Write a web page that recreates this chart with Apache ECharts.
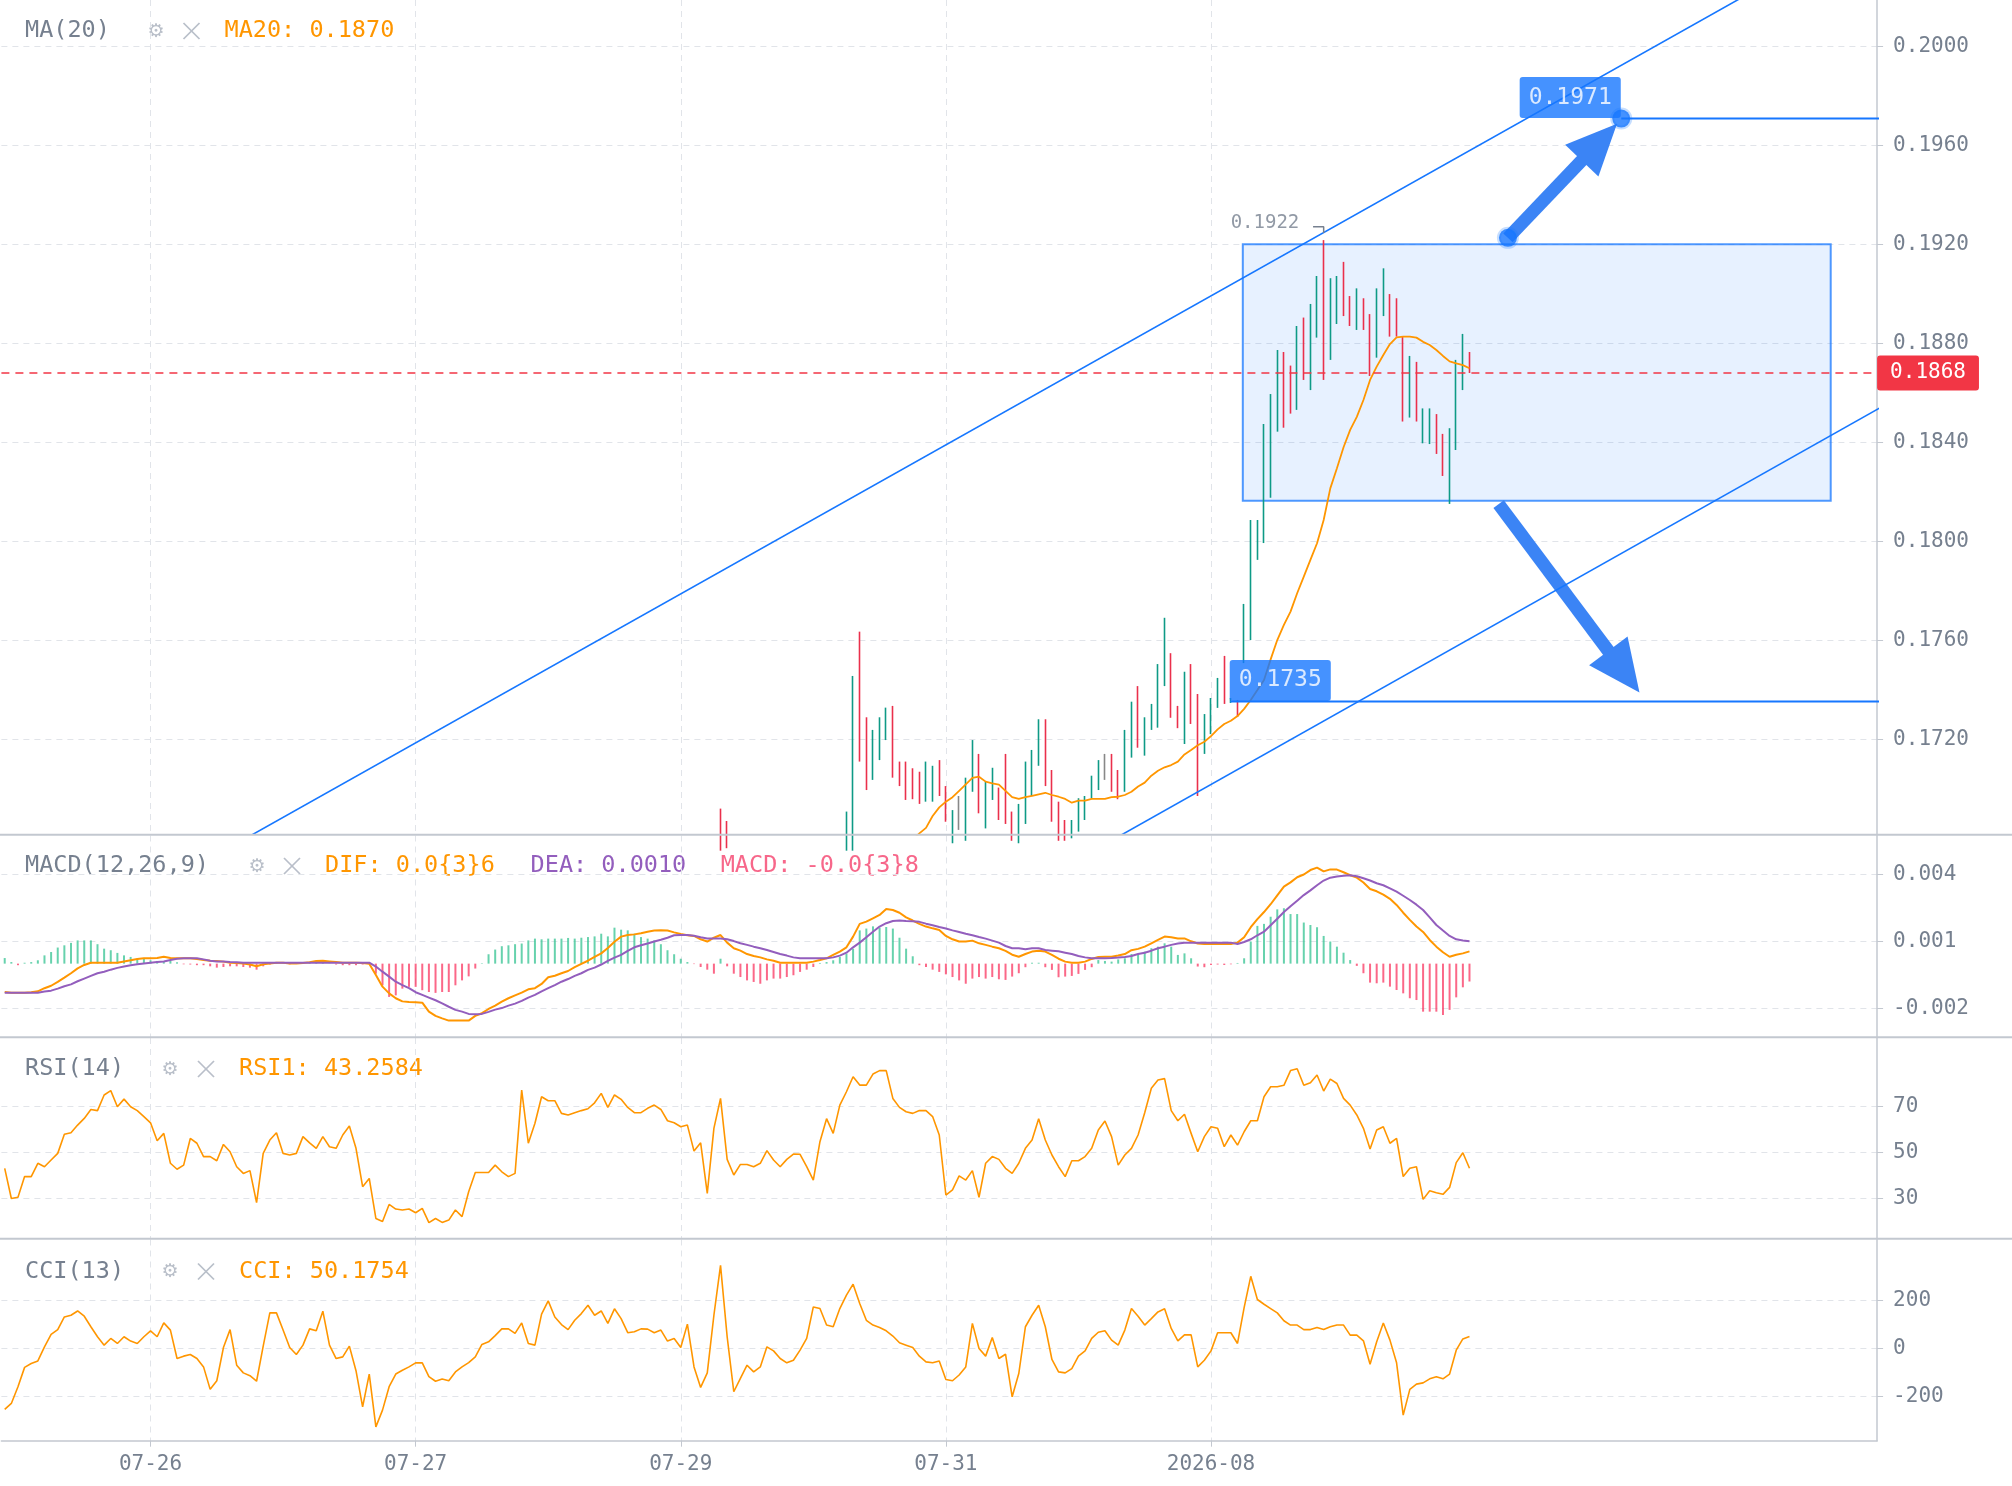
<!DOCTYPE html>
<html>
<head>
<meta charset="utf-8">
<script src="https://cdn.jsdelivr.net/npm/echarts@6/dist/echarts.min.js"></script>
<style>html,body{margin:0;padding:0;background:#fff}#c{width:2012px;height:1486px}</style>
</head>
<body>
<div id="c"></div>
<script>
// ---------------- data ----------------
const SLOTS = 283;                       // bar slots on the time axis (data + empty right margin)
const categories = Array.from({length: SLOTS}, (_, i) => String(i));
const tickIndex = [22, 62, 102, 142, 182];
const tickLabels = ['07-26', '07-27', '07-29', '07-31', '2026-08'];

// candles (visible part of the price pane), first entry is bar 108
const candleStart = 108;
const lows = [0.16750,0.16760,
  null,null,null,null,null,null,null,null,null,null,null,null,null,null,null,null,null,
  0.16750,0.16750,0.17110,0.16995,0.17036,0.17116,0.17197,0.17045,0.17011,0.16955,
  0.16958,0.16939,0.16948,0.16948,0.16971,0.16867,0.16780,0.16834,0.16790,0.16988,
  0.16901,0.16840,0.16955,0.16874,0.16858,0.16790,0.16780,0.16858,0.16971,0.17093,
  0.17011,0.16867,0.16790,0.16790,0.16800,0.16827,0.16874,0.16962,0.16995,0.17036,
  0.16988,0.16958,0.16988,0.17126,0.17166,0.17134,0.17238,0.17247,0.17415,0.17287,
  0.17245,0.17181,0.17262,0.16971,0.17141,0.17221,0.17327,0.17343,0.17347,0.17290,
  0.17508,0.17601,0.17925,0.17993,0.18176,0.18443,0.18459,0.18516,0.18531,0.18652,
  0.18611,0.18823,0.18652,0.18733,0.18878,0.18910,0.18870,0.18854,0.18854,0.18668,
  0.18742,0.18910,0.18827,0.18827,0.18484,0.18500,0.18484,0.18396,0.18393,0.18353,
  0.18264,0.18151,0.18369,0.18611,0.18680];
const highs = [0.16920,0.16870,
  null,null,null,null,null,null,null,null,null,null,null,null,null,null,null,null,null,
  0.16908,0.17456,0.17635,0.17289,0.17238,0.17289,0.17328,0.17335,0.17110,0.17110,
  0.17083,0.17069,0.17110,0.17093,0.17116,0.17011,0.16914,0.16971,0.17045,0.17197,
  0.17141,0.17029,0.17085,0.17005,0.17141,0.16908,0.16939,0.17110,0.17157,0.17281,
  0.17281,0.17076,0.16948,0.16874,0.16874,0.16962,0.16971,0.17053,0.17116,0.17141,
  0.17141,0.17076,0.17238,0.17352,0.17415,0.17289,0.17343,0.17504,0.17691,0.17548,
  0.17335,0.17473,0.17504,0.17383,0.17302,0.17367,0.17448,0.17537,0.17367,0.17359,
  0.17747,0.18086,0.18086,0.18474,0.18595,0.18773,0.18765,0.18710,0.18870,0.18904,
  0.18959,0.19072,0.19217,0.19063,0.19072,0.19129,0.18991,0.19022,0.18982,0.18918,
  0.19022,0.19103,0.18999,0.18982,0.18827,0.18749,0.18725,0.18537,0.18537,0.18514,
  0.18434,0.18457,0.18733,0.18838,0.18765];
// 1 = up (green), -1 = down (red), 0 = unchanged (grey)
const dirs = [-1,-1,
  null,null,null,null,null,null,null,null,null,null,null,null,null,null,null,null,null,
  1,1,-1,-1,1,1,1,-1,-1,-1,
  -1,-1,1,1,-1,-1,1,0,1,1,
  -1,1,1,-1,-1,-1,1,1,1,1,
  -1,-1,-1,-1,1,1,1,1,1,0,
  -1,-1,1,1,-1,1,1,1,1,-1,
  -1,1,-1,-1,1,1,1,-1,1,-1,
  1,1,1,1,1,1,-1,-1,1,-1,
  1,1,-1,1,1,-1,-1,1,-1,-1,
  1,1,-1,-1,-1,1,-1,1,1,-1,
  -1,1,1,1,-1];
const dojiPrices = {144: 0.16900, 166: 0.17090};

// MA(20), first entry is bar 137
const maStart = 137;
const ma20 = [0.16795,0.16820,0.16842,0.16890,0.16925,0.16948,0.16966,0.16992,0.17018,0.17044,
  0.17049,0.17029,0.17022,0.17017,0.16992,0.16966,0.16959,0.16966,0.16971,0.16978,
  0.16984,0.16975,0.16968,0.16959,0.16944,0.16952,0.16952,0.16959,0.16959,0.16959,
  0.16966,0.16968,0.16975,0.16988,0.17009,0.17025,0.17053,0.17073,0.17087,0.17096,
  0.17110,0.17139,0.17157,0.17176,0.17190,0.17213,0.17240,0.17262,0.17275,0.17294,
  0.17323,0.17359,0.17399,0.17440,0.17523,0.17601,0.17662,0.17716,0.17790,0.17857,
  0.17925,0.17992,0.18086,0.18214,0.18295,0.18380,0.18450,0.18503,0.18571,0.18652,
  0.18706,0.18753,0.18797,0.18824,0.18827,0.18827,0.18823,0.18806,0.18793,0.18773,
  0.18749,0.18727,0.18719,0.18712,0.18699];

// MACD(12,26,9), bars 0..221
const dif = [-0.00127,-0.00130,-0.00130,-0.00130,-0.00128,-0.00124,-0.00110,-0.00099,-0.00082,-0.00063,
  -0.00043,-0.00021,-0.00006,0.00004,0.00004,0.00004,0.00004,0.00004,0.00010,0.00015,
  0.00021,0.00024,0.00024,0.00025,0.00031,0.00025,0.00024,0.00024,0.00024,0.00021,
  0.00016,0.00013,0.00012,0.00009,0.00004,0.00003,0.00001,-0.00004,-0.00012,-0.00003,
  0.00001,0.00004,0.00004,0.00001,0.00001,0.00003,0.00006,0.00012,0.00013,0.00010,
  0.00007,0.00004,0.00004,0.00004,0.00003,-0.00001,-0.00051,-0.00103,-0.00133,-0.00155,
  -0.00169,-0.00172,-0.00173,-0.00175,-0.00215,-0.00234,-0.00245,-0.00255,-0.00255,-0.00255,
  -0.00255,-0.00234,-0.00222,-0.00203,-0.00188,-0.00170,-0.00155,-0.00142,-0.00130,-0.00115,
  -0.00110,-0.00091,-0.00061,-0.00054,-0.00043,-0.00033,-0.00016,-0.00001,0.00013,0.00030,
  0.00046,0.00070,0.00098,0.00121,0.00128,0.00131,0.00136,0.00143,0.00148,0.00149,
  0.00148,0.00140,0.00133,0.00127,0.00124,0.00109,0.00099,0.00116,0.00128,0.00094,
  0.00069,0.00058,0.00043,0.00034,0.00028,0.00019,0.00013,0.00004,0.00004,0.00004,
  0.00004,0.00004,0.00009,0.00016,0.00024,0.00039,0.00054,0.00073,0.00121,0.00178,
  0.00188,0.00203,0.00218,0.00245,0.00240,0.00228,0.00207,0.00193,0.00178,0.00166,
  0.00158,0.00151,0.00124,0.00109,0.00099,0.00099,0.00103,0.00091,0.00084,0.00076,
  0.00069,0.00057,0.00040,0.00031,0.00043,0.00054,0.00058,0.00054,0.00039,0.00022,
  0.00009,0.00004,0.00004,0.00009,0.00021,0.00030,0.00031,0.00031,0.00036,0.00043,
  0.00060,0.00066,0.00076,0.00091,0.00106,0.00121,0.00118,0.00113,0.00113,0.00100,
  0.00090,0.00088,0.00088,0.00088,0.00088,0.00088,0.00094,0.00118,0.00163,0.00199,
  0.00231,0.00266,0.00306,0.00345,0.00364,0.00387,0.00399,0.00419,0.00430,0.00413,
  0.00422,0.00421,0.00409,0.00396,0.00385,0.00363,0.00334,0.00324,0.00309,0.00290,
  0.00263,0.00228,0.00196,0.00166,0.00142,0.00106,0.00076,0.00051,0.00031,0.00040,
  0.00046,0.00055];
const dea = [-0.00130,-0.00130,-0.00130,-0.00130,-0.00130,-0.00130,-0.00125,-0.00121,-0.00112,-0.00101,
  -0.00093,-0.00079,-0.00067,-0.00055,-0.00043,-0.00036,-0.00027,-0.00019,-0.00013,-0.00007,
  -0.00003,0.00001,0.00004,0.00007,0.00010,0.00016,0.00022,0.00024,0.00024,0.00024,
  0.00019,0.00013,0.00010,0.00009,0.00007,0.00006,0.00004,0.00004,0.00004,0.00004,
  0.00004,0.00004,0.00004,0.00004,0.00004,0.00004,0.00004,0.00004,0.00004,0.00004,
  0.00004,0.00004,0.00004,0.00004,0.00004,0.00004,-0.00013,-0.00036,-0.00058,-0.00081,
  -0.00096,-0.00110,-0.00128,-0.00140,-0.00152,-0.00164,-0.00178,-0.00193,-0.00207,-0.00215,
  -0.00225,-0.00227,-0.00225,-0.00216,-0.00206,-0.00199,-0.00188,-0.00179,-0.00167,-0.00152,
  -0.00140,-0.00124,-0.00110,-0.00096,-0.00081,-0.00069,-0.00055,-0.00043,-0.00028,-0.00018,
  -0.00004,0.00012,0.00027,0.00039,0.00057,0.00073,0.00082,0.00090,0.00099,0.00107,
  0.00116,0.00127,0.00128,0.00128,0.00125,0.00118,0.00113,0.00113,0.00113,0.00109,
  0.00101,0.00091,0.00084,0.00076,0.00069,0.00061,0.00052,0.00043,0.00036,0.00028,
  0.00024,0.00024,0.00024,0.00024,0.00024,0.00028,0.00036,0.00049,0.00073,0.00094,
  0.00118,0.00143,0.00166,0.00181,0.00191,0.00193,0.00191,0.00190,0.00187,0.00179,
  0.00172,0.00164,0.00157,0.00149,0.00142,0.00134,0.00127,0.00119,0.00112,0.00103,
  0.00094,0.00079,0.00069,0.00069,0.00064,0.00069,0.00069,0.00061,0.00058,0.00055,
  0.00049,0.00043,0.00034,0.00028,0.00024,0.00024,0.00024,0.00025,0.00027,0.00030,
  0.00034,0.00043,0.00049,0.00058,0.00069,0.00076,0.00084,0.00090,0.00093,0.00094,
  0.00094,0.00094,0.00094,0.00094,0.00094,0.00094,0.00088,0.00097,0.00109,0.00127,
  0.00143,0.00172,0.00201,0.00231,0.00257,0.00282,0.00307,0.00328,0.00351,0.00372,
  0.00385,0.00390,0.00394,0.00396,0.00391,0.00382,0.00372,0.00360,0.00351,0.00337,
  0.00322,0.00304,0.00285,0.00264,0.00240,0.00207,0.00173,0.00148,0.00124,0.00109,
  0.00104,0.00100];
const macdHist = [0.00025,0.00007,-0.00007,0.00004,0.00007,0.00015,0.00037,0.00052,0.00072,0.00082,
  0.00093,0.00104,0.00104,0.00104,0.00087,0.00067,0.00060,0.00048,0.00037,0.00030,
  0.00022,0.00022,0.00015,0.00012,0.00007,0.00012,0.00006,-0.00003,-0.00004,-0.00007,
  -0.00007,-0.00012,-0.00018,-0.00015,-0.00012,-0.00012,-0.00015,-0.00018,-0.00027,-0.00012,
  -0.00004,0.00003,0.00001,-0.00003,0.00001,0.00003,0.00006,0.00007,0.00006,0.00001,
  -0.00004,-0.00007,-0.00007,-0.00007,-0.00004,-0.00001,-0.00045,-0.00097,-0.00149,-0.00142,
  -0.00112,-0.00104,-0.00104,-0.00119,-0.00127,-0.00131,-0.00127,-0.00127,-0.00097,-0.00075,
  -0.00057,-0.00022,0.00002,0.00042,0.00063,0.00078,0.00082,0.00087,0.00090,0.00104,
  0.00112,0.00109,0.00112,0.00112,0.00112,0.00115,0.00112,0.00116,0.00119,0.00122,
  0.00134,0.00122,0.00161,0.00152,0.00149,0.00134,0.00119,0.00112,0.00104,0.00087,
  0.00060,0.00042,0.00022,0.00007,-0.00002,-0.00015,-0.00027,-0.00045,0.00022,-0.00012,
  -0.00045,-0.00060,-0.00075,-0.00082,-0.00090,-0.00075,-0.00067,-0.00067,-0.00060,-0.00052,
  -0.00037,-0.00027,-0.00015,0.00003,0.00007,0.00015,0.00030,0.00045,0.00067,0.00149,
  0.00157,0.00167,0.00161,0.00164,0.00157,0.00116,0.00067,0.00033,-0.00007,-0.00015,
  -0.00027,-0.00037,-0.00048,-0.00060,-0.00075,-0.00090,-0.00067,-0.00060,-0.00067,-0.00060,
  -0.00070,-0.00073,-0.00058,-0.00043,-0.00016,0.00004,0.00004,-0.00016,-0.00028,-0.00061,
  -0.00058,-0.00055,-0.00046,-0.00028,-0.00016,0.00016,0.00012,0.00009,0.00019,0.00024,
  0.00043,0.00043,0.00054,0.00069,0.00076,0.00091,0.00076,0.00039,0.00046,0.00024,
  -0.00013,-0.00016,-0.00006,-0.00004,-0.00006,-0.00003,0.00003,0.00024,0.00099,0.00169,
  0.00178,0.00210,0.00243,0.00248,0.00222,0.00222,0.00184,0.00173,0.00163,0.00124,
  0.00099,0.00076,0.00049,0.00016,-0.00010,-0.00043,-0.00085,-0.00088,-0.00085,-0.00103,
  -0.00118,-0.00133,-0.00155,-0.00163,-0.00215,-0.00215,-0.00215,-0.00230,-0.00207,-0.00151,
  -0.00106,-0.00080];

// RSI(14), bars 0..221
const rsi = [43.2,30.1,30.6,39.6,39.6,45.4,43.9,46.8,49.7,58.0,
  58.7,62.0,64.9,68.8,68.3,75.1,77.0,70.0,73.3,70.0,
  68.3,65.7,63.0,55.2,58.4,45.4,42.8,44.6,56.2,54.1,
  48.3,48.3,46.5,53.6,50.4,43.9,41.0,42.2,28.3,49.7,
  55.5,58.7,49.7,49.0,49.7,57.0,54.3,51.9,57.0,52.6,
  51.9,57.7,61.6,51.9,35.2,38.8,21.4,20.1,27.5,25.5,
  25.1,25.5,23.9,25.8,19.6,21.4,19.7,20.7,25.1,22.2,
  33.0,41.4,41.4,41.4,44.6,41.7,39.6,41.0,77.2,54.1,
  62.8,74.3,72.6,72.6,67.1,66.4,67.4,68.3,69.1,71.7,
  75.8,69.7,75.1,73.2,69.7,67.4,67.4,69.3,70.7,68.8,
  63.9,63.0,61.3,62.0,50.7,54.3,32.3,60.6,73.6,47.1,
  40.3,44.9,44.9,43.9,45.4,50.9,46.8,43.9,47.1,49.4,
  49.3,43.9,38.1,54.8,64.8,58.4,70.7,76.5,83.0,79.4,
  79.4,84.2,85.7,85.7,73.6,69.7,67.8,67.1,68.3,68.3,
  65.7,57.7,31.6,33.8,39.9,38.1,42.2,30.6,45.4,48.3,
  47.1,43.2,41.0,45.4,51.9,55.5,64.8,55.5,49.0,43.9,
  39.6,46.5,46.5,48.3,51.9,59.9,63.8,57.0,44.6,49.0,
  51.9,57.7,67.4,78.0,81.6,82.2,68.3,63.9,66.7,58.4,
  50.4,57.0,61.3,60.6,52.6,57.7,53.3,59.1,63.9,63.9,
  74.3,78.7,78.7,79.3,85.7,86.5,79.3,80.4,83.8,76.8,
  82.0,80.1,73.6,70.7,66.4,60.6,51.6,59.9,61.3,54.1,
  56.2,39.6,43.2,43.9,29.7,33.5,32.6,31.9,34.9,45.7,
  50.0,43.2584];

// CCI(13), bars 0..221
const cci = [-255,-230,-160,-79,-63,-52,7,59,79,132,
  139,157,135,91,49,14,42,21,49,31,
  21,49,74,49,107,77,-42,-32,-25,-42,
  -77,-171,-135,4,79,-70,-102,-114,-137,10,
  149,149,77,4,-25,14,82,74,156,14,
  -42,-35,10,-93,-244,-107,-328,-258,-160,-107,
  -91,-77,-60,-60,-118,-137,-128,-135,-98,-77,
  -59,-35,17,28,54,82,82,63,107,21,
  14,144,199,132,100,79,118,146,181,139,
  157,105,166,125,66,70,82,81,66,77,
  31,42,4,102,-77,-163,-102,139,348,49,
  -181,-125,-70,-98,-77,7,-10,-42,-60,-49,
  -7,42,174,167,98,91,167,223,269,188,
  118,98,88,74,52,24,14,4,-32,-56,
  -60,-52,-130,-135,-111,-77,105,0,-32,46,
  -42,-24,-202,-105,91,139,181,91,-46,-98,
  -102,-84,-32,-10,42,68,74,35,14,77,
  167,135,98,125,153,166,84,32,57,57,
  -77,-49,-10,66,66,66,21,171,302,205,
  185,167,149,116,98,98,79,79,88,79,
  91,98,98,56,56,32,-66,28,107,35,
  -60,-279,-171,-149,-144,-127,-118,-127,-107,-7,
  40,50.1754];

// drawings on the price pane, in (bar index, price)
const channelUpper = [[30, 0.16704], [270, 0.20316]];
const channelLower = [[150, 0.16535], [290, 0.18646]];
const boxRect = [[186.8, 0.19200], [275.5, 0.18164]];
const levelHigh = [[243.9, 0.19708], [290, 0.19708]];
const levelLow = [[184.9, 0.17353], [290, 0.17353]];
const arrowUp = [[226.8, 0.19226], [240.6, 0.19613]];
const arrowDown = [[225.4, 0.18150], [244.3, 0.17473]];
const highMark = {bar: 199, price: 0.19217, text: '0.1922'};

// ---------------- style ----------------
const FONT = "'DejaVu Sans Mono', monospace";
const UP = '#0E9A86', DOWN = '#EA304C', NOCHG = '#888888';
const LABEL_C = '#76808F', AXIS_C = '#C3C8D0', GRID_C = '#E1E4E9', ICON_C = '#B9BFC9';
const BLUE = '#1677FF', ARROW_C = '#3B84F5', PRICE_C = '#F23645';
const ORANGE = '#FF9600', PURPLE = '#935EBD', PINK = '#F7678A';
const GL = 1.4, GW = 1875.7;

// ---------------- build ----------------
const candleData = categories.map((_, i) => {
  const k = i - candleStart;
  if (k < 0 || k >= lows.length || lows[k] == null) return '-';
  const lo = lows[k], hi = highs[k], d = dirs[k];
  if (d > 0) return [lo, hi, lo, hi];
  if (d < 0) return [hi, lo, lo, hi];
  return [dojiPrices[i], dojiPrices[i], lo, hi];
});
const maData = categories.map((_, i) => {
  const k = i - maStart;
  return (k >= 0 && k < ma20.length) ? ma20[k] : '-';
});
const lastClose = candleData.filter(d => d !== '-').slice(-1)[0][1];

const grids = [
  {top: 0, height: 834.3},
  {top: 835.5, height: 201.5},
  {top: 1038, height: 200},
  {top: 1239.5, height: 201.2}
].map(g => Object.assign({left: GL, width: GW, containLabel: false, outerBoundsMode: 'none'}, g));

const yRanges = [
  {min: 0.168162, max: 0.201871, ticks: [0.172, 0.176, 0.180, 0.184, 0.188, 0.192, 0.196, 0.200], fmt: v => v.toFixed(4)},
  {min: -0.003285, max: 0.005737, ticks: [-0.002, 0.001, 0.004], fmt: v => v.toFixed(3)},
  {min: 12.91, max: 99.87, ticks: [30, 50, 70], fmt: v => String(v)},
  {min: -385.8, max: 456, ticks: [-200, 0, 200], fmt: v => String(v)}
];

const xAxes = [];
for (let k = 0; k < 4; k++) {
  xAxes.push({type: 'category', gridIndex: k, data: categories, boundaryGap: true, show: false, position: 'top'});
}
for (let k = 0; k < 4; k++) {
  const bottom = k === 3;
  xAxes.push({
    type: 'value', gridIndex: k, min: -0.5, max: SLOTS - 0.5, position: 'bottom',
    axisLine: {show: bottom, onZero: false, lineStyle: {color: AXIS_C, width: 1.5}},
    axisTick: {show: bottom, length: 6, customValues: tickIndex, lineStyle: {color: AXIS_C, width: 1}},
    axisLabel: {show: bottom, customValues: tickIndex, margin: 13, color: LABEL_C, fontFamily: FONT, fontSize: 21,
      formatter: v => tickLabels[tickIndex.indexOf(v)] || ''},
    splitLine: {show: true, lineStyle: {color: GRID_C, type: [6, 5], width: 1}}
  });
}
const yAxes = yRanges.map((r, k) => ({
  type: 'value', gridIndex: k, position: 'right', min: r.min, max: r.max,
  axisLine: {show: true, onZero: false, lineStyle: {color: AXIS_C, width: 1.5}},
  axisTick: {show: true, length: 6, customValues: r.ticks, lineStyle: {color: AXIS_C, width: 1}},
  axisLabel: {show: true, customValues: r.ticks, formatter: r.fmt, margin: 16, color: LABEL_C, fontFamily: FONT, fontSize: 21},
  splitLine: {show: true, lineStyle: {color: GRID_C, type: [6, 5], width: 1}}
}));

const labelBox = {backgroundColor: BLUE, color: '#fff', fontFamily: FONT, fontSize: 23, lineHeight: 27,
  padding: [7, 9], borderRadius: 3};

const series = [
  {
    type: 'candlestick', xAxisIndex: 0, yAxisIndex: 0, data: candleData, barWidth: 1.2, clip: true,
    itemStyle: {color: UP, color0: DOWN, borderColor: UP, borderColor0: DOWN, borderColorDoji: NOCHG, borderWidth: 1.6}
  },
  // last price line
  {type: 'line', xAxisIndex: 4, yAxisIndex: 0, data: [], symbol: 'none', z: 6,
    markLine: {
      silent: true, symbol: ['none', 'none'], animation: false,
      data: [[{coord: [-0.5, lastClose]}, {coord: [SLOTS - 0.5, lastClose]}]],
      lineStyle: {color: PRICE_C, type: [8, 6], width: 1.5},
      label: {show: true, position: 'end', distance: 0, formatter: () => lastClose.toFixed(4),
        backgroundColor: PRICE_C, color: '#fff', fontFamily: FONT, fontSize: 21, lineHeight: 25,
        padding: [5, 13], borderRadius: 3}
    }},
  {type: 'line', xAxisIndex: 0, yAxisIndex: 0, data: maData, showSymbol: false, symbol: 'none',
    lineStyle: {color: ORANGE, width: 1.8}, z: 4},
  // channel lines
  {type: 'line', xAxisIndex: 4, yAxisIndex: 0, data: channelUpper, symbol: 'none', clip: true,
    lineStyle: {color: BLUE, width: 1.6}, z: 5},
  {type: 'line', xAxisIndex: 4, yAxisIndex: 0, data: channelLower, symbol: 'none', clip: true,
    lineStyle: {color: BLUE, width: 1.6}, z: 5},
  // level lines
  {type: 'line', xAxisIndex: 4, yAxisIndex: 0, data: levelHigh, symbol: 'none', clip: true,
    lineStyle: {color: BLUE, width: 2}, z: 5},
  {type: 'line', xAxisIndex: 4, yAxisIndex: 0, data: levelLow, symbol: 'none', clip: true,
    lineStyle: {color: BLUE, width: 2}, z: 5},
  // rectangle
  {type: 'line', xAxisIndex: 4, yAxisIndex: 0, data: [], symbol: 'none', z: 3,
    markArea: {silent: true, animation: false,
      itemStyle: {color: 'rgba(22,119,255,0.1)', borderColor: 'rgba(22,119,255,0.75)', borderWidth: 2},
      data: [[{coord: boxRect[0]}, {coord: boxRect[1]}]]}},
  // arrows
  {type: 'line', xAxisIndex: 4, yAxisIndex: 0, data: [], symbol: 'none', z: 6,
    markLine: {silent: true, animation: false, label: {show: false},
      lineStyle: {color: ARROW_C, width: 13, type: 'solid', opacity: 1},
      data: [
        [{coord: arrowUp[0], symbol: 'none'}, {coord: arrowUp[1], symbol: 'triangle', symbolSize: [46, 51]}],
        [{coord: arrowDown[0], symbol: 'none'}, {coord: arrowDown[1], symbol: 'triangle', symbolSize: [48, 52]}]
      ]}},
  // anchor dots
  {type: 'scatter', xAxisIndex: 4, yAxisIndex: 0, z: 7, symbol: 'circle', symbolSize: 18,
    itemStyle: {color: BLUE, borderColor: 'rgba(22,119,255,0.3)', borderWidth: 4},
    data: [arrowUp[0], levelHigh[0]]},
  // high marker bracket
  {type: 'line', xAxisIndex: 4, yAxisIndex: 0, symbol: 'none', z: 6,
    lineStyle: {color: LABEL_C, width: 1.5},
    data: [[highMark.bar - 1.6, 0.19271], [highMark.bar, 0.19271], [highMark.bar, 0.19246]]},
  // labels
  {type: 'scatter', xAxisIndex: 4, yAxisIndex: 0, z: 8, symbol: 'rect', symbolSize: 1,
    itemStyle: {color: 'transparent'},
    data: [
      {value: levelHigh[0], label: Object.assign({show: true, position: [0, 0], align: 'right', verticalAlign: 'bottom',
        formatter: levelHigh[0][1].toFixed(4)}, labelBox)},
      {value: levelLow[0], label: Object.assign({show: true, position: [0, 0], align: 'left', verticalAlign: 'bottom',
        formatter: levelLow[0][1].toFixed(4)}, labelBox)},
      {value: [highMark.bar - 3.6, 0.19282], label: {show: true, position: [0, 0], align: 'right', verticalAlign: 'middle',
        formatter: highMark.text, color: LABEL_C, fontFamily: FONT, fontSize: 19}}
    ]},
  // MACD
  {type: 'bar', xAxisIndex: 1, yAxisIndex: 1, data: macdHist, barWidth: 2,
    itemStyle: {color: p => p.value >= 0 ? 'rgba(45,192,142,0.72)' : 'rgba(249,40,85,0.7)'}},
  {type: 'line', xAxisIndex: 1, yAxisIndex: 1, data: dif, symbol: 'none', lineStyle: {color: ORANGE, width: 2}},
  {type: 'line', xAxisIndex: 1, yAxisIndex: 1, data: dea, symbol: 'none', lineStyle: {color: PURPLE, width: 2}},
  // RSI
  {type: 'line', xAxisIndex: 2, yAxisIndex: 2, data: rsi, symbol: 'none', lineStyle: {color: ORANGE, width: 1.6}},
  // CCI
  {type: 'line', xAxisIndex: 3, yAxisIndex: 3, data: cci, symbol: 'none', lineStyle: {color: ORANGE, width: 1.6}}
];

// legends / pane headers
function header(y, name, gearX, closeX, items) {
  const els = [
    {type: 'text', x: 25, y, style: {text: name, fill: LABEL_C, font: '23.5px ' + FONT, verticalAlign: 'middle'}},
    {type: 'text', x: gearX, y: y + 1, style: {text: '\u2699', fill: ICON_C, font: '19px "DejaVu Sans"', align: 'center', verticalAlign: 'middle'}},
    {type: 'line', shape: {x1: closeX - 8, y1: y - 8, x2: closeX + 8, y2: y + 8}, style: {stroke: ICON_C, lineWidth: 1.7}},
    {type: 'line', shape: {x1: closeX + 8, y1: y - 8, x2: closeX - 8, y2: y + 8}, style: {stroke: ICON_C, lineWidth: 1.7}}
  ];
  items.forEach(it => els.push({type: 'text', x: it.x, y, style: {text: it.text, fill: it.color, font: '23.5px ' + FONT, verticalAlign: 'middle'}}));
  return els;
}
const sepLines = [834.8, 1037.3, 1238.8].map(y => ({type: 'line', z: 10,
  shape: {x1: 0, y1: y, x2: 2012, y2: y}, style: {stroke: AXIS_C, lineWidth: 2}}));

const graphic = [].concat(
  sepLines,
  header(31, 'MA(20)', 156, 191.5, [{x: 224.5, text: 'MA20: ' + ma20[ma20.length - 1].toFixed(4), color: ORANGE}]),
  header(866, 'MACD(12,26,9)', 257, 292, [
    {x: 325, text: 'DIF: 0.0{3}6', color: ORANGE},
    {x: 530.6, text: 'DEA: 0.0010', color: PURPLE},
    {x: 720.7, text: 'MACD: -0.0{3}8', color: PINK}]),
  header(1069, 'RSI(14)', 170, 206, [{x: 239, text: 'RSI1: 43.2584', color: ORANGE}]),
  header(1271.5, 'CCI(13)', 170, 206, [{x: 239, text: 'CCI: 50.1754', color: ORANGE}])
);

const chart = echarts.init(document.getElementById('c'), null, {renderer: 'canvas', width: 2012, height: 1486});
chart.setOption({
  animation: false,
  backgroundColor: '#ffffff',
  grid: grids,
  xAxis: xAxes,
  yAxis: yAxes,
  series,
  graphic
});
</script>
</body>
</html>
